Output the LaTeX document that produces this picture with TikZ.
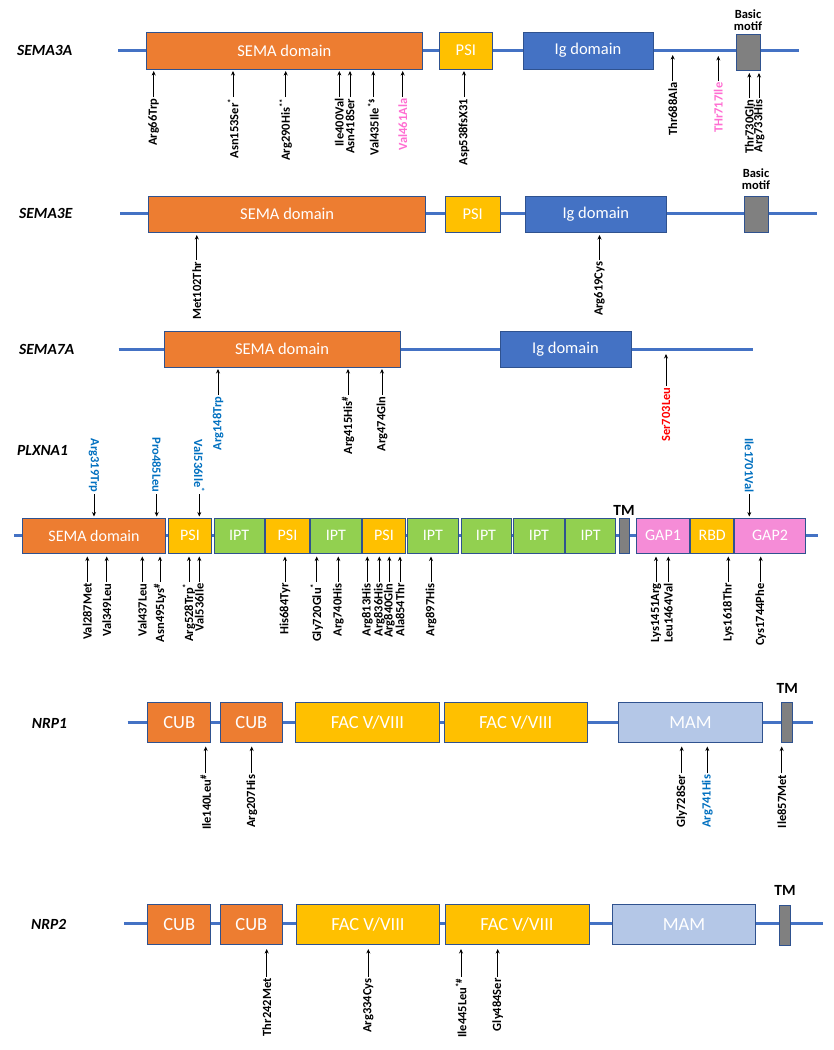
\documentclass[tikz,border=0pt]{standalone}
\usepackage{fontspec}
\setmainfont{Carlito}
\usetikzlibrary{arrows.meta,fit}
\definecolor{semaor}{HTML}{ED7D31}
\definecolor{psiyel}{HTML}{FFC000}
\definecolor{igblue}{HTML}{4472C4}
\definecolor{tmgray}{HTML}{808080}
\definecolor{iptgreen}{HTML}{92D050}
\definecolor{gappink}{RGB}{245,140,215}
\definecolor{mamblue}{HTML}{B4C7E7}
\definecolor{edgeblue}{HTML}{2F528F}
\definecolor{labblue}{HTML}{0070C0}
\definecolor{labpink}{RGB}{255,110,210}
\definecolor{labred}{HTML}{FF0000}
\tikzset{
  backbone/.style={draw=igblue, line width=3pt},
  dom/.style={draw=edgeblue, line width=0.8pt, inner sep=0pt},
  dtext/.style={text=white, inner sep=0pt, anchor=center},
  fsema/.style={font=\fontsize{16.5}{18}\selectfont},
  fplx/.style={font=\fontsize{16}{18}\selectfont},
  fnrp/.style={font=\fontsize{18.5}{20}\selectfont},
  gene/.style={font=\fontsize{15.5}{17}\selectfont\bfseries\itshape, anchor=west, inner sep=0pt},
  tag/.style={font=\fontsize{12.5}{14}\selectfont\bfseries, align=center, inner sep=0pt},
  tmtag/.style={font=\fontsize{15.5}{17}\selectfont\bfseries, inner sep=0pt},
  lab/.style={font=\fontsize{12.5}{13}\selectfont\bfseries, inner sep=1.5pt},
  mut/.style={draw=black, line width=0.9pt, -{Stealth[length=4.5pt,width=4pt]}}
}
% \dom[font style]{name}{fill}{x1,y1}{x2,y2}{text}
\newcommand{\dom}[6][]{%
  \node[dom,fill=#3,fit={(#4) (#5)}] (#2) {};
  \node[dtext,#1] (#2t) at (#2.center) {#6};}
\newcommand{\mutdn}[6][]{%
  \coordinate (#2h) at (#3,#4);
  \node[lab,rotate=90,anchor=east,#1] (#2) at (#3,#5) {#6};
  \draw[mut] (#2.east) -- (#2h);}
\newcommand{\mutup}[6][]{%
  \coordinate (#2h) at (#3,#4);
  \node[lab,rotate=-90,anchor=east,#1] (#2) at (#3,#5) {#6};
  \draw[mut] (#2.east) -- (#2h);}
\newcommand{\supmark}[1]{\textsuperscript{#1}}
\begin{document}
\begin{tikzpicture}[x=1pt,y=-1pt]
\useasboundingbox[fill=white] (0,0) rectangle (834,1050);

%% ---------------- SEMA3A ----------------
\node[gene] (g3a) at (17,50.7) {SEMA3A};
\coordinate (l3a1) at (118,50.7);
\coordinate (l3a2) at (799,50.7);
\draw[backbone] (l3a1) -- (l3a2);
\dom[fsema]{a3sema}{semaor}{146.7,32}{422,69}{SEMA domain}
\dom[fsema]{a3psi}{psiyel}{439,32}{492.7,69}{PSI}
\dom[fsema]{a3ig}{igblue}{523,32}{653,69}{Ig domain}
\node[dom,fill=tmgray,fit={(736,34) (760.7,70.5)}] (a3bm) {};
\node[tag] (a3bmt) at (748,20) {Basic\\[-2pt]motif};
\mutdn{m1}{153.7}{71}{97}{Arg66Trp}
\mutdn{m2}{233}{71}{97}{Asn153Ser\supmark{*}}
\mutdn{m3}{285.7}{71}{97}{Arg290His\supmark{**}}
\mutdn{m4}{339.3}{71}{97}{Ile400Val}
\mutdn{m5}{350}{71}{97}{Asn418Ser}
\mutdn{m6}{373.3}{71}{97}{Val435Ile\supmark{*\$}}
\mutdn[text=labpink]{m7}{402.7}{71}{97}{Val461Ala}
\mutdn{m8}{464}{71}{97}{Asp538fsX31}
\mutdn{m9}{672.7}{55}{81}{Thr688Ala}
\mutdn[text=labpink]{m10}{718.3}{56}{81}{THr717Ile}
\mutdn{m11}{749.3}{73}{98}{Thr730Gln}
\mutdn{m12}{759}{73}{98}{Arg733His}

%% ---------------- SEMA3E ----------------
\node[gene] (g3e) at (19,213.5) {SEMA3E};
\coordinate (l3e1) at (120,213.5);
\coordinate (l3e2) at (817,213.5);
\draw[backbone] (l3e1) -- (l3e2);
\dom[fsema]{e3sema}{semaor}{148.7,196}{425.7,232}{SEMA domain}
\dom[fsema]{e3psi}{psiyel}{445.5,196}{500,232}{PSI}
\dom[fsema]{e3ig}{igblue}{525.7,196}{666,232}{Ig domain}
\node[dom,fill=tmgray,fit={(744,196) (768.5,232)}] (e3bm) {};
\node[tag] (e3bmt) at (756,179) {Basic\\[-2pt]motif};
\mutdn{m13}{196.8}{235}{260}{Met102Thr}
\mutdn{m14}{599.5}{235}{260}{Arg619Cys}

%% ---------------- SEMA7A ----------------
\node[gene] (g7a) at (19,349.3) {SEMA7A};
\coordinate (l7a1) at (118.7,349.3);
\coordinate (l7a2) at (753,349.3);
\draw[backbone] (l7a1) -- (l7a2);
\dom[fsema]{s7sema}{semaor}{164,331}{400,367}{SEMA domain}
\dom[fsema]{s7ig}{igblue}{500,331}{631,367}{Ig domain}
\mutdn[text=labblue]{m15}{218}{369}{395}{Arg148Trp}
\mutdn{m16}{348}{369}{395}{Arg415His\supmark{\#}}
\mutdn{m17}{382}{369}{395}{Arg474Gln}
\mutdn[text=labred]{m18}{666}{354}{386}{Ser703Leu}

%% ---------------- PLXNA1 ----------------
\node[gene] (gpl) at (17,450) {PLXNA1};
\coordinate (lpl1) at (14,535.7);
\coordinate (lpl2) at (818,535.7);
\draw[backbone] (lpl1) -- (lpl2);
\dom[fplx]{p1}{semaor}{22.3,518.3}{165.7,553.3}{SEMA domain}
\dom[fplx]{p2}{psiyel}{168.3,518.3}{211.7,553.3}{PSI}
\dom[fplx]{p3}{iptgreen}{214,518.3}{264.3,553.3}{IPT}
\dom[fplx]{p4}{psiyel}{265.7,518.3}{309.3,553.3}{PSI}
\dom[fplx]{p5}{iptgreen}{310.7,518.3}{361,553.3}{IPT}
\dom[fplx]{p6}{psiyel}{362.3,518.3}{405.7,553.3}{PSI}
\dom[fplx]{p7}{iptgreen}{407.3,518.3}{458.3,553.3}{IPT}
\dom[fplx]{p8}{iptgreen}{461,518.3}{511,553.3}{IPT}
\dom[fplx]{p9}{iptgreen}{513.7,518.3}{564.3,553.3}{IPT}
\dom[fplx]{p10}{iptgreen}{565.7,518.3}{615.7,553.3}{IPT}
\node[dom,fill=tmgray,fit={(619,518.3) (629,553.3)}] (p11) {};
\node[tmtag] (p11t) at (624,510.5) {TM};
\dom[fplx]{p12}{gappink}{636.7,518.3}{689.3,553.3}{GAP1}
\dom[fplx]{p13}{psiyel}{690.7,518.3}{733.7,553.3}{RBD}
\dom[fplx]{p14}{gappink}{734.3,518.3}{805.7,553.3}{GAP2}
% above
\mutup[text=labblue]{u1}{94}{516.5}{494}{Arg319Trp}
\mutup[text=labblue]{u2}{156.7}{516.5}{494}{Pro485Leu}
\mutup[text=labblue]{u3}{199.3}{516.5}{494}{Val536Ile\supmark{*}}
\mutup[text=labblue]{u4}{749.3}{516.5}{494}{Ile1701Val}
% below
\mutdn{b1}{87.3}{556.5}{581.7}{Val287Met}
\mutdn{b2}{106.7}{556.5}{581.7}{Val349Leu}
\mutdn{b3}{142.3}{556.5}{581.7}{Val437Leu}
\mutdn{b4}{160}{556.5}{581.7}{Asn495Lys\supmark{\#}}
\mutdn{b5}{189}{556.5}{581.7}{Arg528Trp\supmark{*}}
\mutdn{b6}{199.3}{556.5}{581.7}{Val536Ile}
\mutdn{b7}{285}{556.5}{581.7}{His684Tyr}
\mutdn{b8}{316.7}{556.5}{581.7}{Gly720Glu\supmark{*}}
\mutdn{b9}{338.3}{556.5}{581.7}{Arg740His}
\mutdn{b10}{367.3}{556.5}{581.7}{Arg813His}
\mutdn{b11}{379.3}{556.5}{581.7}{Arg836His}
\mutdn{b12}{389.3}{556.5}{581.7}{Arg840Gln}
\mutdn{b13}{400}{556.5}{581.7}{Ala854Thr}
\mutdn{b14}{431}{556.5}{581.7}{Arg897His}
\mutdn{b15}{656}{556.5}{581.7}{Lys1451Arg}
\mutdn{b16}{668.3}{556.5}{581.7}{Leu1464Val}
\mutdn{b17}{728.3}{556.5}{581.7}{Lys1618Thr}
\mutdn{b18}{760.7}{556.5}{581.7}{Cys1744Phe}

%% ---------------- NRP1 ----------------
\node[gene] (gn1) at (31.7,723) {NRP1};
\coordinate (ln11) at (127.7,722.3);
\coordinate (ln12) at (813.3,722.3);
\draw[backbone] (ln11) -- (ln12);
\dom[fnrp]{n1a}{semaor}{147.7,702.7}{210.7,742.7}{CUB}
\dom[fnrp]{n1b}{semaor}{220,702.7}{282.7,742.7}{CUB}
\dom[fnrp]{n1c}{psiyel}{295.7,702.7}{439.3,742.7}{FAC V/VIII}
\dom[fnrp]{n1d}{psiyel}{444,702.7}{587.3,742.7}{FAC V/VIII}
\dom[fnrp]{n1e}{mamblue}{618.7,702.7}{762.3,742.7}{MAM}
\node[dom,fill=tmgray,fit={(781.7,702.7) (792.7,742.7)}] (n1f) {};
\node[tmtag] (n1ft) at (787.2,688) {TM};
\mutdn{q1}{205.7}{746.5}{773.3}{Ile140Leu\supmark{\#}}
\mutdn{q2}{251.7}{746.5}{773.3}{Arg207His}
\mutdn{q3}{681.7}{746.5}{773.3}{Gly728Ser}
\mutdn[text=labblue]{q4}{707.3}{746.5}{773.3}{Arg741His}
\mutdn{q5}{781.7}{746.5}{773.3}{Ile857Met}

%% ---------------- NRP2 ----------------
\node[gene] (gn2) at (31,924.3) {NRP2};
\coordinate (ln21) at (124.3,923.7);
\coordinate (ln22) at (822.7,923.7);
\draw[backbone] (ln21) -- (ln22);
\dom[fnrp]{n2a}{semaor}{147.7,904}{210.7,944.3}{CUB}
\dom[fnrp]{n2b}{semaor}{220,904}{282.7,944.3}{CUB}
\dom[fnrp]{n2c}{psiyel}{296.7,904}{439.3,944.3}{FAC V/VIII}
\dom[fnrp]{n2d}{psiyel}{445,904}{589,944.3}{FAC V/VIII}
\dom[fnrp]{n2e}{mamblue}{612.3,904}{755.7,944.3}{MAM}
\node[dom,fill=tmgray,fit={(779.3,905) (790.7,945.3)}] (n2f) {};
\node[tmtag] (n2ft) at (785,890) {TM};
\mutdn{r1}{266.7}{949}{976.7}{Thr242Met}
\mutdn{r2}{368.3}{949}{976.7}{Arg334Cys}
\mutdn{r3}{461}{949}{976.7}{Ile445Leu\supmark{*\#}}
\mutdn{r4}{497.7}{949}{976.7}{Gly484Ser}
\end{tikzpicture}
\end{document}
